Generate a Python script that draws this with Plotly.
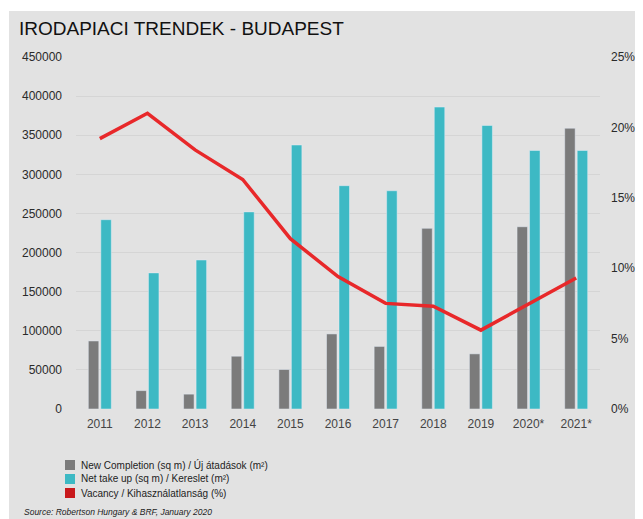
import plotly.graph_objects as go

years = ["2011", "2012", "2013", "2014", "2015", "2016", "2017", "2018", "2019", "2020*", "2021*"]
new_completion = [87000, 23500, 19000, 67500, 50500, 96000, 80000, 231000, 70500, 233000, 359000]
net_take_up = [242000, 174000, 190500, 252000, 337500, 285500, 279000, 386000, 362500, 330500, 330500]
vacancy = [19.2, 21.0, 18.4, 16.3, 12.1, 9.4, 7.5, 7.3, 5.6, 7.45, 9.3]

left_ticks = [0, 50000, 100000, 150000, 200000, 250000, 300000, 350000, 400000, 450000]
right_ticks = [0, 5, 10, 15, 20, 25]

legend_labels = ["New Completion (sq m) / Új átadások (m²)",
                 "Net take up (sq m) / Kereslet (m²)",
                 "Vacancy / Kihasználatlanság (%)"]

GRAY = "#7b7b7b"
TEAL = "#3db9c4"
RED = "#e8282a"
RED_LEG = "#c8191c"
BG = "#e2e2e2"
TXT = "#2a2a2a"

fig = go.Figure()
fig.add_trace(go.Bar(x=years, y=new_completion, marker_color=GRAY, name=legend_labels[0],
                     showlegend=False, yaxis="y"))
fig.add_trace(go.Bar(x=years, y=net_take_up, marker_color=TEAL, name=legend_labels[1],
                     showlegend=False, yaxis="y"))
fig.add_trace(go.Scatter(x=years, y=vacancy, mode="lines", line=dict(color=RED, width=3.5),
                         name=legend_labels[2], showlegend=False, yaxis="y2"))

# page has an 8px body margin; figure drawn at (8, 8)
OFF = 8
W, H = 643 - OFF, 519 - OFF
L, T = 76 - OFF, 57 - OFF
R = W - (600 - OFF)
B = H - (409 - OFF)
PW, PH = W - L - R, H - T - B


def px_x(x):
    return (x - OFF - L) / PW


def px_y(y):
    return (H - B - (y - OFF)) / PH


shapes = [dict(type="rect", xref="paper", yref="paper", layer="below",
               x0=px_x(9), x1=px_x(660), y0=px_y(530), y1=px_y(11),
               fillcolor=BG, line=dict(width=0))]
annotations = [
    dict(text="IRODAPIACI TRENDEK - BUDAPEST", xref="paper", yref="paper",
         x=px_x(17), y=px_y(28), xanchor="left", yanchor="middle", showarrow=False,
         font=dict(family="Liberation Sans, Arial, sans-serif", size=19, color="#111111")),
    dict(text="<i>Source: Robertson Hungary & BRF, January 2020</i>", xref="paper", yref="paper",
         x=px_x(22), y=px_y(512), xanchor="left", yanchor="middle", showarrow=False,
         font=dict(size=8.5, color="#222")),
]
leg_cols = [GRAY, TEAL, RED_LEG]
leg_y = [465, 479, 493]
for lab, col, yy in zip(legend_labels, leg_cols, leg_y):
    shapes.append(dict(type="rect", xref="paper", yref="paper",
                       x0=px_x(65), x1=px_x(75), y0=px_y(yy + 5), y1=px_y(yy - 5),
                       fillcolor=col, line=dict(width=0)))
    annotations.append(dict(text=lab, xref="paper", yref="paper", x=px_x(79), y=px_y(yy),
                            xanchor="left", yanchor="middle", showarrow=False,
                            font=dict(size=10, color="#222")))

fig.update_layout(
    width=W, height=H,
    margin=dict(l=L, r=R, t=T, b=B, autoexpand=False),
    paper_bgcolor="white",
    plot_bgcolor=BG,
    font=dict(family="Liberation Sans, Arial, sans-serif", size=11, color=TXT),
    barmode="group",
    bargap=0.475,
    bargroupgap=0.16,
    showlegend=False,
    xaxis=dict(type="category", showgrid=False, zeroline=False, showline=False,
               ticks="", ticklabelstandoff=6, tickfont=dict(size=12, color="#444")),
    yaxis=dict(range=[0, 450000], tickvals=left_ticks, ticktext=[str(v) for v in left_ticks],
               showgrid=True, gridcolor="#d5d5d5", gridwidth=1, zeroline=False,
               ticks="", ticklabelstandoff=13, tickfont=dict(size=12, color=TXT)),
    yaxis2=dict(range=[0, 25], overlaying="y", side="right", tickvals=right_ticks,
                ticktext=[f"{v}%" for v in right_ticks], showgrid=False, zeroline=False,
                ticks="", ticklabelstandoff=10, tickfont=dict(size=12, color=TXT)),
    shapes=shapes,
    annotations=annotations,
)

fig.write_html("out.html")
